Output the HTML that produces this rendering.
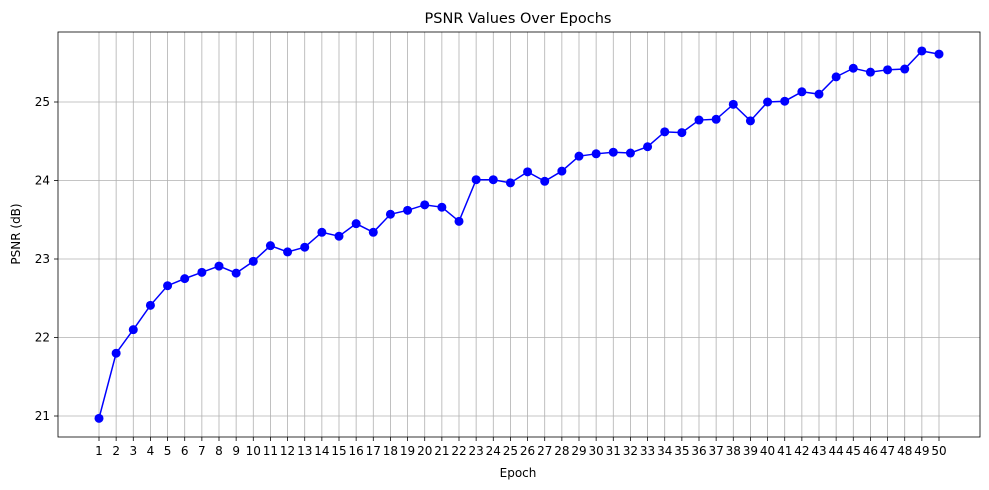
<!DOCTYPE html>
<html><head><meta charset="utf-8"><style>
body{margin:0;background:#fff;}
svg{display:block;font-family:"DejaVu Sans","Liberation Sans",sans-serif;}
</style></head><body>
<svg id="chart" width="989" height="490">
<rect x="0" y="0" width="989" height="490" fill="#fff"/>
<text x="518" y="23" font-size="14.5" text-anchor="middle">PSNR Values Over Epochs</text>
<g id="grid"></g>
<g id="axes"></g>
<g id="series"></g>
<text x="518" y="477" font-size="12" text-anchor="middle">Epoch</text>
<text x="20" y="234" font-size="12" text-anchor="middle" transform="rotate(-90 20 234)">PSNR (dB)</text>
</svg>
<script>
const epochs = Array.from({length:50},(_,i)=>i+1);
const psnr = [20.97,21.80,22.10,22.41,22.66,22.75,22.83,22.91,22.82,22.97,
23.17,23.09,23.15,23.34,23.29,23.45,23.34,23.57,23.62,23.69,
23.66,23.48,24.01,24.01,23.97,24.11,23.99,24.12,24.31,24.34,
24.36,24.35,24.43,24.62,24.61,24.77,24.78,24.97,24.76,25.00,
25.01,25.13,25.10,25.32,25.43,25.38,25.41,25.42,25.65,25.61];
const yTicks = [21,22,23,24,25];
const NS="http://www.w3.org/2000/svg";
const L=58,R=980,T=32,B=437;
const xs=e=>99+(e-1)*(939-99)/49;
const ys=v=>416-(v-21)*78.5;
function mk(tag,attrs,parent){const el=document.createElementNS(NS,tag);for(const k in attrs)el.setAttribute(k,attrs[k]);parent.appendChild(el);return el;}
const grid=document.getElementById('grid'),axes=document.getElementById('axes'),series=document.getElementById('series');
epochs.forEach(e=>{
  const g=mk('line',{x1:xs(e),x2:xs(e),y1:T,y2:B,stroke:'#b0b0b0','stroke-width':0.8},grid);
  
  
  mk('line',{x1:xs(e),x2:xs(e),y1:B,y2:B+4,stroke:'#000','stroke-width':0.8},axes);
  const t=mk('text',{x:xs(e),y:B+18,'font-size':12,'text-anchor':'middle'},axes);
  t.textContent=e;
  
  
});
yTicks.forEach(v=>{
  const g=mk('line',{x1:L,x2:R,y1:ys(v),y2:ys(v),stroke:'#b0b0b0','stroke-width':0.8},grid);
  
  
  mk('line',{x1:L-4,x2:L,y1:ys(v),y2:ys(v),stroke:'#000','stroke-width':0.8},axes);
  const t=mk('text',{x:L-8,y:ys(v)+4,'font-size':12,'text-anchor':'end'},axes);
  t.textContent=v;
  
  
});
const frame=mk('rect',{x:L,y:T,width:R-L,height:B-T,fill:'none',stroke:'#000','stroke-width':0.8},axes);


const line=mk('polyline',{points:psnr.map((v,i)=>xs(epochs[i])+','+ys(v)).join(' '),fill:'none',stroke:'#0000ff','stroke-width':1.5},series);


psnr.forEach((v,i)=>{
  const c=mk('circle',{cx:xs(epochs[i]),cy:ys(v),r:4.5,fill:'#0000ff'},series);
  
  
});
</script>
</body></html>
